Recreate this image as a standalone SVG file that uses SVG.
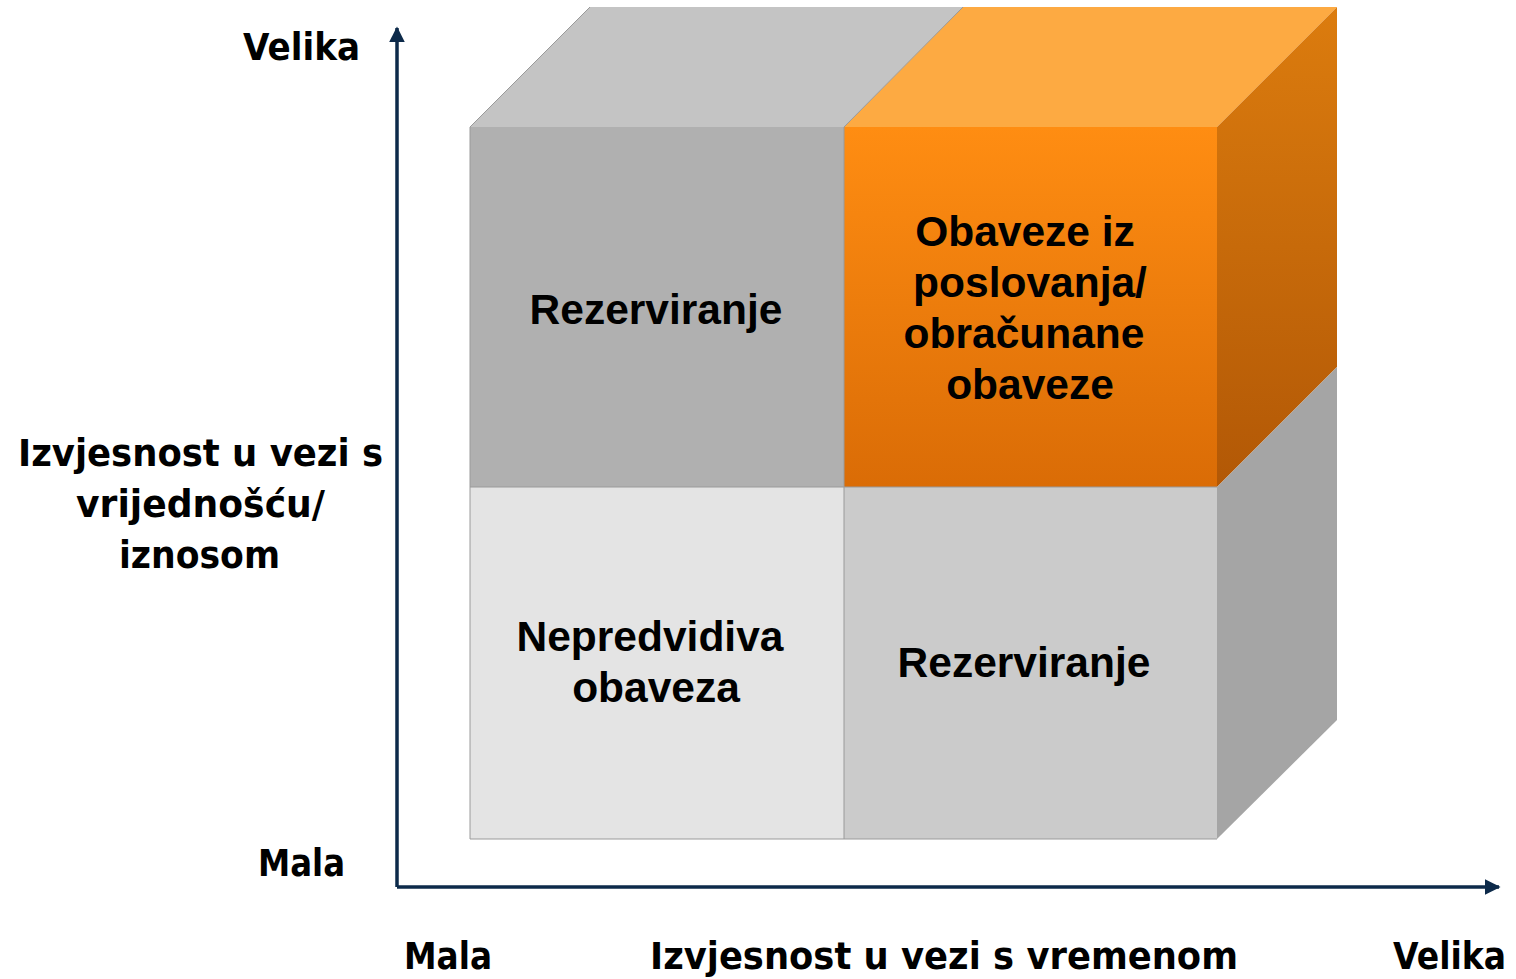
<svg xmlns="http://www.w3.org/2000/svg" width="1516" height="979" viewBox="0 0 1516 979">
<style>
.cell{font-family:"Liberation Sans",Arial,sans-serif;font-weight:bold;font-size:42.5px;fill:#000;text-anchor:middle}
.ax{font-family:"DejaVu Sans",Verdana,sans-serif;font-weight:bold;font-size:37px;fill:#000}
.edge{stroke:#9a9a9a;stroke-width:1;fill:none}
.axis{stroke:#0d2a4a;stroke-width:3.5;fill:none}
</style>
<defs>
<linearGradient id="gFront" x1="0" y1="0" x2="0" y2="1">
<stop offset="0" stop-color="#ff8d12"/>
<stop offset="1" stop-color="#da6c06"/>
</linearGradient>
<linearGradient id="gSide" x1="0" y1="0" x2="0" y2="1">
<stop offset="0" stop-color="#dc7c0e"/>
<stop offset="1" stop-color="#b25806"/>
</linearGradient>
<marker id="arr" viewBox="0 0 10 10" refX="9" refY="5" markerWidth="4.5" markerHeight="4.5" orient="auto" markerUnits="strokeWidth">
<path d="M0,0 L10,5 L0,10 Z" fill="#0d2a4a"/>
</marker>
</defs>

<g id="connectors">
<line class="axis" x1="397" y1="887" x2="397" y2="28" marker-end="url(#arr)"/>
<line class="axis" x1="397" y1="887" x2="1499" y2="887" marker-end="url(#arr)"/>
</g>

<g id="cube">
<polygon id="top-left" points="470,127 590,7 963,7 844,127" fill="#c4c4c4"/>
<polygon id="top-right" points="844,127 963,7 1337,7 1217,127" fill="#fdaa42"/>
<polygon id="side-upper" points="1217,127 1337,7 1337,367 1217,487" fill="url(#gSide)"/>
<polygon id="side-lower" points="1217,487 1337,367 1337,720 1217,839" fill="#a5a5a5"/>
<line class="edge" x1="844" y1="127" x2="963" y2="7"/>
<line class="edge" x1="470" y1="127" x2="590" y2="7" stroke="#d0d0d0"/>
</g>

<g id="node-top-left">
<rect x="470" y="127" width="374" height="360" fill="#b0b0b0"/>
<text class="cell" x="656" y="324">Rezerviranje</text>
</g>

<g id="node-top-right">
<rect x="844" y="127" width="373" height="360" fill="url(#gFront)"/>
<text class="cell" x="1025" y="246">Obaveze iz</text>
<text class="cell" x="1030" y="297">poslovanja/</text>
<text class="cell" x="1024" y="348">obračunane</text>
<text class="cell" x="1030" y="399">obaveze</text>
</g>

<g id="node-bottom-left">
<rect x="470" y="487" width="374" height="352" fill="#e4e4e4"/>
<text class="cell" x="650" y="651">Nepredvidiva</text>
<text class="cell" x="656" y="702">obaveza</text>
</g>

<g id="node-bottom-right">
<rect x="844" y="487" width="373" height="352" fill="#cbcbcb"/>
<text class="cell" x="1024" y="677">Rezerviranje</text>
</g>

<g id="cube-edges">
<line class="edge" x1="844" y1="127" x2="844" y2="839"/>
<line class="edge" x1="470" y1="487" x2="1217" y2="487"/>
<line class="edge" x1="470" y1="127" x2="470" y2="839" stroke="#c8c8c8"/>
<line class="edge" x1="470" y1="839" x2="1217" y2="839" stroke="#c8c8c8"/>
</g>

<g id="labels">
<text class="ax" x="243" y="60" textLength="117" lengthAdjust="spacingAndGlyphs">Velika</text>
<text class="ax" x="258" y="876" textLength="87" lengthAdjust="spacingAndGlyphs">Mala</text>
<text class="ax" x="18" y="466" textLength="365" lengthAdjust="spacingAndGlyphs">Izvjesnost u vezi s</text>
<text class="ax" x="76" y="517" textLength="249" lengthAdjust="spacingAndGlyphs">vrijednošću/</text>
<text class="ax" x="119" y="568" textLength="161" lengthAdjust="spacingAndGlyphs">iznosom</text>
<text class="ax" x="404" y="969" textLength="88" lengthAdjust="spacingAndGlyphs">Mala</text>
<text class="ax" x="650" y="969" textLength="588" lengthAdjust="spacingAndGlyphs">Izvjesnost u vezi s vremenom</text>
<text class="ax" x="1393" y="969" textLength="113" lengthAdjust="spacingAndGlyphs">Velika</text>
</g>
</svg>
